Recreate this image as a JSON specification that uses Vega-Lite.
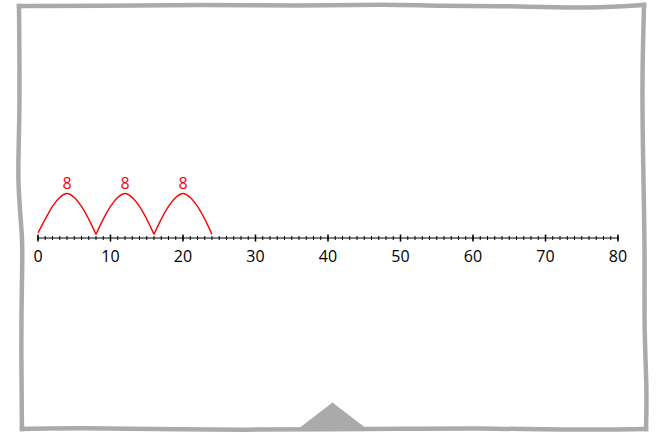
{
  "$schema": "https://vega.github.io/schema/vega-lite/v6.json",
  "width": 656,
  "height": 435,
  "autosize": "none",
  "padding": 0,
  "background": "white",
  "config": {"view": {"stroke": null}},
  "datasets": {
    "frame": [
      {"side": "top", "i": 0, "x": -2.62, "y": 32.0},
      {"side": "top", "i": 1, "x": 8.55, "y": 32.0},
      {"side": "top", "i": 2, "x": 22.34, "y": 32.21},
      {"side": "top", "i": 3, "x": 36.14, "y": 32.0},
      {"side": "top", "i": 4, "x": 48.41, "y": 32.28},
      {"side": "top", "i": 5, "x": 54.9, "y": 32.0},
      {"side": "top", "i": 6, "x": 66.48, "y": 32.0},
      {"side": "top", "i": 7, "x": 76.55, "y": 31.66},
      {"side": "top", "i": 8, "x": 83.59, "y": 32.14},
      {"side": "right", "i": 0, "x": 83.59, "y": 32.14},
      {"side": "right", "i": 1, "x": 83.31, "y": 21.79},
      {"side": "right", "i": 2, "x": 83.45, "y": 10.76},
      {"side": "right", "i": 3, "x": 83.72, "y": -1.66},
      {"side": "right", "i": 4, "x": 83.59, "y": -12.69},
      {"side": "right", "i": 5, "x": 84.0, "y": -20.97},
      {"side": "right", "i": 6, "x": 83.86, "y": -26.34},
      {"side": "bottom", "i": 0, "x": 83.86, "y": -26.34},
      {"side": "bottom", "i": 1, "x": 72.0, "y": -26.48},
      {"side": "bottom", "i": 2, "x": 60.97, "y": -26.21},
      {"side": "bottom", "i": 3, "x": 49.93, "y": -26.34},
      {"side": "bottom", "i": 4, "x": 40.28, "y": -26.34},
      {"side": "bottom", "i": 5, "x": 29.24, "y": -26.48},
      {"side": "bottom", "i": 6, "x": 15.45, "y": -26.34},
      {"side": "bottom", "i": 7, "x": 5.79, "y": -26.21},
      {"side": "bottom", "i": 8, "x": -2.21, "y": -26.34},
      {"side": "left", "i": 0, "x": -2.21, "y": -26.34},
      {"side": "left", "i": 1, "x": -2.34, "y": -15.45},
      {"side": "left", "i": 2, "x": -2.21, "y": -4.41},
      {"side": "left", "i": 3, "x": -2.07, "y": -0.28},
      {"side": "left", "i": 4, "x": -2.9, "y": 7.72},
      {"side": "left", "i": 5, "x": -2.48, "y": 16.28},
      {"side": "left", "i": 6, "x": -2.62, "y": 32.0}
    ],
    "tri": [
      {"x": 35.86, "y": -26.34},
      {"x": 40.62, "y": -22.69},
      {"x": 45.38, "y": -26.34}
    ],
    "axisline": [{"from": 0, "to": 80, "y": 0}],
    "minor": [
      {"v": 0}, {"v": 1}, {"v": 2}, {"v": 3}, {"v": 4}, {"v": 5}, {"v": 6}, {"v": 7}, {"v": 8}, {"v": 9},
      {"v": 10}, {"v": 11}, {"v": 12}, {"v": 13}, {"v": 14}, {"v": 15}, {"v": 16}, {"v": 17}, {"v": 18}, {"v": 19},
      {"v": 20}, {"v": 21}, {"v": 22}, {"v": 23}, {"v": 24}, {"v": 25}, {"v": 26}, {"v": 27}, {"v": 28}, {"v": 29},
      {"v": 30}, {"v": 31}, {"v": 32}, {"v": 33}, {"v": 34}, {"v": 35}, {"v": 36}, {"v": 37}, {"v": 38}, {"v": 39},
      {"v": 40}, {"v": 41}, {"v": 42}, {"v": 43}, {"v": 44}, {"v": 45}, {"v": 46}, {"v": 47}, {"v": 48}, {"v": 49},
      {"v": 50}, {"v": 51}, {"v": 52}, {"v": 53}, {"v": 54}, {"v": 55}, {"v": 56}, {"v": 57}, {"v": 58}, {"v": 59},
      {"v": 60}, {"v": 61}, {"v": 62}, {"v": 63}, {"v": 64}, {"v": 65}, {"v": 66}, {"v": 67}, {"v": 68}, {"v": 69},
      {"v": 70}, {"v": 71}, {"v": 72}, {"v": 73}, {"v": 74}, {"v": 75}, {"v": 76}, {"v": 77}, {"v": 78}, {"v": 79},
      {"v": 80}
    ],
    "major": [
      {"v": 0, "label": "0"}, {"v": 10, "label": "10"}, {"v": 20, "label": "20"},
      {"v": 30, "label": "30"}, {"v": 40, "label": "40"}, {"v": 50, "label": "50"},
      {"v": 60, "label": "60"}, {"v": 70, "label": "70"}, {"v": 80, "label": "80"}
    ],
    "arcs": [
      {"jump": 1, "x": 0, "y": 0.7}, {"jump": 1, "x": 1, "y": 2.6}, {"jump": 1, "x": 2, "y": 4.35},
      {"jump": 1, "x": 3, "y": 5.6}, {"jump": 1, "x": 4, "y": 6.15}, {"jump": 1, "x": 5, "y": 5.6},
      {"jump": 1, "x": 6, "y": 4.35}, {"jump": 1, "x": 7, "y": 2.6}, {"jump": 1, "x": 8, "y": 0.5},
      {"jump": 2, "x": 8, "y": 0.5}, {"jump": 2, "x": 9, "y": 2.6}, {"jump": 2, "x": 10, "y": 4.35},
      {"jump": 2, "x": 11, "y": 5.6}, {"jump": 2, "x": 12, "y": 6.15}, {"jump": 2, "x": 13, "y": 5.6},
      {"jump": 2, "x": 14, "y": 4.35}, {"jump": 2, "x": 15, "y": 2.6}, {"jump": 2, "x": 16, "y": 0.5},
      {"jump": 3, "x": 16, "y": 0.5}, {"jump": 3, "x": 17, "y": 2.6}, {"jump": 3, "x": 18, "y": 4.35},
      {"jump": 3, "x": 19, "y": 5.6}, {"jump": 3, "x": 20, "y": 6.15}, {"jump": 3, "x": 21, "y": 5.6},
      {"jump": 3, "x": 22, "y": 4.35}, {"jump": 3, "x": 23, "y": 2.6}, {"jump": 3, "x": 24, "y": 0.5}
    ],
    "arclabels": [
      {"x": 4, "y": 7.5, "label": "8"},
      {"x": 12, "y": 7.5, "label": "8"},
      {"x": 20, "y": 7.5, "label": "8"}
    ]
  },
  "layer": [
    {
      "data": {"name": "frame"},
      "mark": {"type": "line", "stroke": "#aaaaaa", "strokeWidth": 4.5, "interpolate": "basis", "strokeCap": "square"},
      "encoding": {
        "x": {"field": "x", "type": "quantitative", "scale": {"domain": [-5.241, 85.241], "nice": false, "zero": false}, "axis": null},
        "y": {"field": "y", "type": "quantitative", "scale": {"domain": [-27.17, 32.83], "nice": false, "zero": false}, "axis": null},
        "detail": {"field": "side"},
        "order": {"field": "i", "type": "quantitative"}
      }
    },
    {
      "data": {"name": "tri"},
      "mark": {"type": "area", "fill": "#aaaaaa", "interpolate": "linear"},
      "encoding": {
        "x": {"field": "x", "type": "quantitative"},
        "y": {"field": "y", "type": "quantitative"},
        "y2": {"datum": -26.6}
      }
    },
    {
      "data": {"name": "axisline"},
      "mark": {"type": "rule", "stroke": "black", "strokeWidth": 1},
      "encoding": {
        "x": {"field": "from", "type": "quantitative"},
        "x2": {"field": "to"},
        "y": {"field": "y", "type": "quantitative"}
      }
    },
    {
      "data": {"name": "minor"},
      "mark": {"type": "tick", "orient": "vertical", "color": "black", "size": 4, "thickness": 1, "opacity": 1},
      "encoding": {
        "x": {"field": "v", "type": "quantitative"},
        "y": {"datum": 0, "type": "quantitative"}
      }
    },
    {
      "data": {"name": "major"},
      "mark": {"type": "tick", "orient": "vertical", "color": "black", "size": 7, "thickness": 1.5, "opacity": 1},
      "encoding": {
        "x": {"field": "v", "type": "quantitative"},
        "y": {"datum": 0, "type": "quantitative"}
      }
    },
    {
      "data": {"name": "major"},
      "mark": {"type": "text", "font": "Open Sans", "fontSize": 16, "color": "black", "baseline": "middle", "align": "center"},
      "encoding": {
        "x": {"field": "v", "type": "quantitative"},
        "y": {"datum": -2.6, "type": "quantitative"},
        "text": {"field": "label"}
      }
    },
    {
      "data": {"name": "arcs"},
      "mark": {"type": "line", "stroke": "#ff0000", "strokeWidth": 1.4, "interpolate": "monotone"},
      "encoding": {
        "x": {"field": "x", "type": "quantitative"},
        "y": {"field": "y", "type": "quantitative"},
        "detail": {"field": "jump"}
      }
    },
    {
      "data": {"name": "arclabels"},
      "mark": {"type": "text", "font": "Open Sans", "fontSize": 16, "color": "#ff0000", "baseline": "middle", "align": "center"},
      "encoding": {
        "x": {"field": "x", "type": "quantitative"},
        "y": {"field": "y", "type": "quantitative"},
        "text": {"field": "label"}
      }
    }
  ]
}
